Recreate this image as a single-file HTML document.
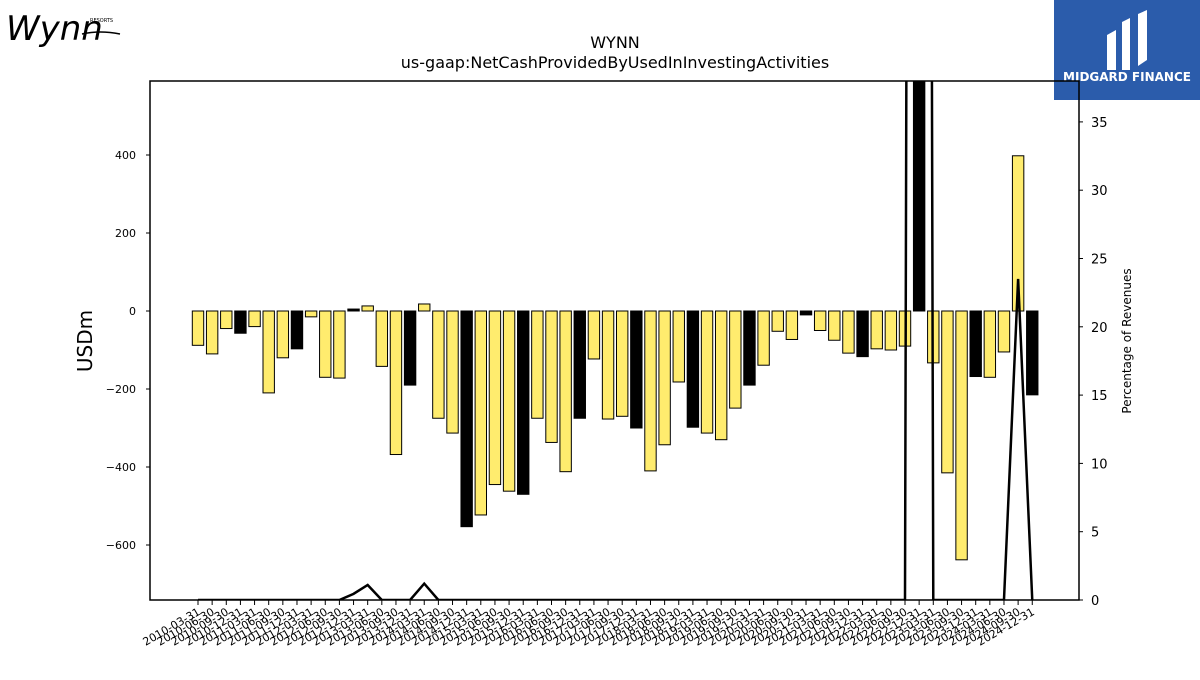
<!DOCTYPE html>
<html><head><meta charset="utf-8"><style>
body{margin:0;background:#fff;font-family:"Liberation Sans","DejaVu Sans",sans-serif}
svg text{font-family:"DejaVu Sans","Liberation Sans",sans-serif}
</style></head><body>
<svg id="c" width="1200" height="675" viewBox="0 0 1200 675">
<g>
<text x="6" y="40" font-family="Liberation Serif" font-style="italic" font-size="34" fill="#000">Wynn</text>
<path d="M82 34 Q100 30 120 34" stroke="#000" fill="none" stroke-width="1.5"/>
<text x="90" y="22" font-size="5" fill="#000">RESORTS</text>
</g>
<g>
<rect x="1054" y="0" width="146" height="100" fill="#2b5cab"/>
<path d="M1107 70 L1107 35 L1116 30 L1116 70 Z M1122 70 L1122 22 L1130 18 L1130 70 Z M1138 66 L1138 14 L1147 10 L1147 60 Z" fill="#fff"/>
<text x="1127" y="81" text-anchor="middle" font-size="12" font-weight="bold" fill="#fff">MIDGARD FINANCE</text>
</g>
<text x="615" y="48" text-anchor="middle" font-size="16">WYNN</text>
<text x="615" y="68" text-anchor="middle" font-size="16">us-gaap:NetCashProvidedByUsedInInvestingActivities</text>
<text transform="translate(92,341) rotate(-90)" text-anchor="middle" font-size="20">USDm</text>
<text transform="translate(1131,341) rotate(-90)" text-anchor="middle" font-size="12">Percentage of Revenues</text>
<g id="plot"></g>
</svg>
<script>
const categories=[];
for(let y=2010;y<=2024;y++){for(const q of ["03-31","06-30","09-30","12-31"])categories.push(y+"-"+q);}
const values=[-88,-110,-45,-57,-40,-210,-120,-97,-15,-170,-172,5,13,-142,-368,-190,18,-275,-313,-553,-523,-445,-462,-470,-275,-337,-412,-275,-123,-277,-270,-300,-410,-343,-182,-298,-313,-330,-249,-190,-139,-52,-73,-10,-50,-75,-108,-117,-97,-100,-90,3000,-133,-415,-638,-168,-170,-105,398,-215];
const pct=[0,0,0,0,0,0,0,0,0,0,0,0.45,1.1,0,0,0,1.2,0,0,0,0,0,0,0,0,0,0,0,0,0,0,0,0,0,0,0,0,0,0,0,0,0,0,0,0,0,0,0,0,0,0,400,0,0,0,0,0,0,23.5,0];
const leftTicks=[-600,-400,-200,0,200,400];
const rightTicks=[0,5,10,15,20,25,30,35];
const L=150,R=1079,T=81,B=600;
const y=v=>311-v*0.39;
const y2=v=>600-v*13.66;
const x=i=>198+i*14.14;
const NS="http://www.w3.org/2000/svg";
const g=document.getElementById('plot');
function mk(t,a){const e=document.createElementNS(NS,t);for(const k in a)e.setAttribute(k,a[k]);g.appendChild(e);return e;}
const clip=mk('clipPath',{id:'cp'});
const cr=document.createElementNS(NS,'rect');cr.setAttribute('x',L);cr.setAttribute('y',T);cr.setAttribute('width',R-L);cr.setAttribute('height',B-T);clip.appendChild(cr);
const bars=mk('g',{'clip-path':'url(#cp)'});
values.forEach((v,i)=>{
 const r=document.createElementNS(NS,'rect');
 const y0=Math.min(y(0),y(v)),h=Math.abs(y(v)-y(0));
 r.setAttribute('x',x(i)-5.7);r.setAttribute('y',y0);r.setAttribute('width',11.4);r.setAttribute('height',Math.max(h,1));
 r.setAttribute('fill',i%4==3?'#000':'#ffec6e');r.setAttribute('stroke','#000');r.setAttribute('stroke-width','1');
 
 
 bars.appendChild(r);
});
const pl=document.createElementNS(NS,'polyline');
pl.setAttribute('points',pct.map((v,i)=>x(i)+','+y2(v)).join(' '));
pl.setAttribute('fill','none');pl.setAttribute('stroke','#000');pl.setAttribute('stroke-width','2.5');


bars.appendChild(pl);
const fr=mk('rect',{x:L,y:T,width:R-L,height:B-T,fill:'none',stroke:'#000','stroke-width':1.5});


leftTicks.forEach(t=>{
 mk('line',{x1:L-4,x2:L,y1:y(t),y2:y(t),stroke:'#000'});
 const e=mk('text',{x:L-14,y:y(t)+4,'text-anchor':'end','font-size':11});e.textContent=String(t).replace('-','\u2212');
 
 
});
rightTicks.forEach(t=>{
 mk('line',{x1:R,x2:R+4,y1:y2(t),y2:y2(t),stroke:'#000'});
 const e=mk('text',{x:R+12,y:y2(t)+5,'font-size':13});e.textContent=t;
 
 
});
categories.forEach((c,i)=>{
 mk('line',{x1:x(i),x2:x(i),y1:B,y2:B+5,stroke:'#000'});
 const e=mk('text',{transform:`translate(${x(i)+3},${B+14}) rotate(-30)`,'text-anchor':'end','font-size':11});e.textContent=c;
 
 
});
</script>
</body></html>
